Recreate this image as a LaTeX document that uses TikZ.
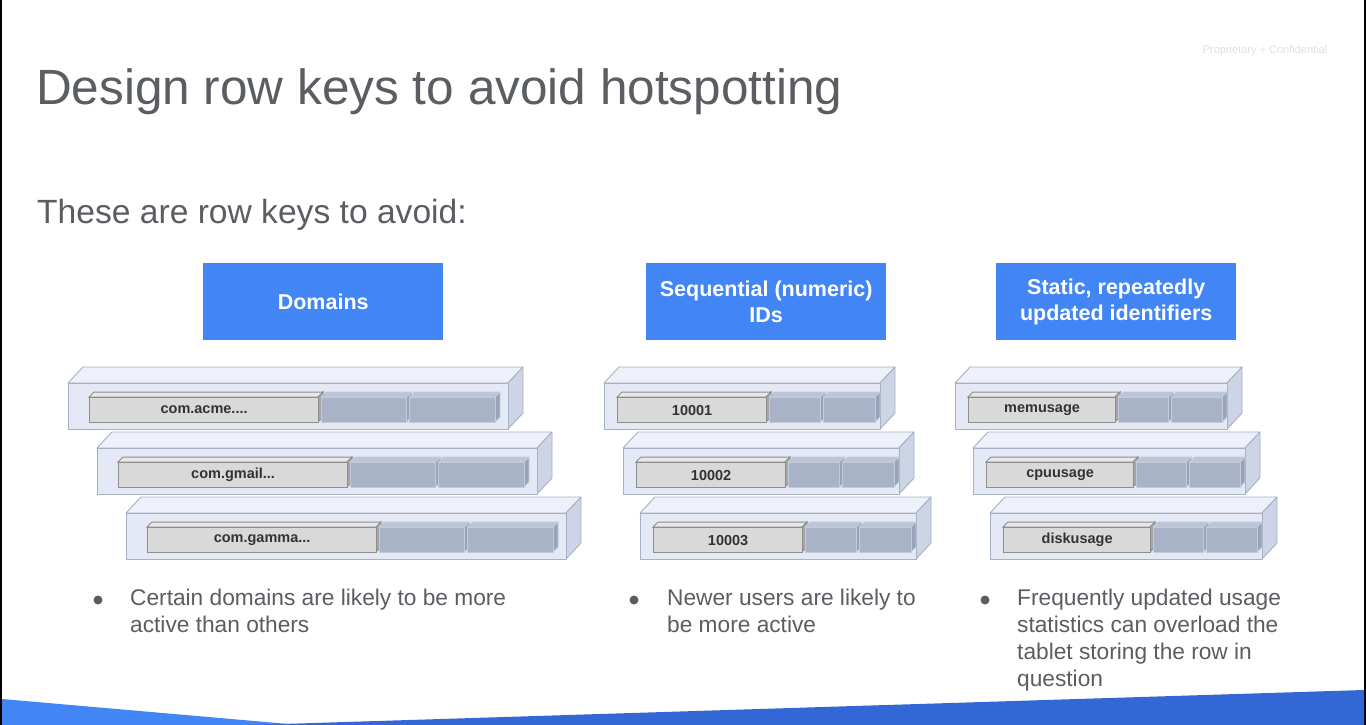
\documentclass[tikz,border=0pt]{standalone}
\usepackage{fontspec}
\setmainfont{Liberation Sans}
\definecolor{txt}{HTML}{5A5D61}
\definecolor{gblue}{HTML}{4285F4}
\definecolor{dblue}{HTML}{3367D6}
\definecolor{slabfront}{HTML}{E4E9F5}
\definecolor{slabtop}{HTML}{EEF1FA}
\definecolor{slabside}{HTML}{CDD4E5}
\definecolor{slabline}{HTML}{A7B0C4}
\definecolor{keyfront}{HTML}{D9D9D9}
\definecolor{keytop}{HTML}{E8E8E8}
\definecolor{keyside}{HTML}{A6A6A6}
\definecolor{keyline}{HTML}{8E8E8E}
\definecolor{cellfront}{HTML}{A9B3C7}
\definecolor{celltop}{HTML}{BCC5D7}
\definecolor{cellside}{HTML}{98A3B9}
\definecolor{cellline}{HTML}{C3CBDB}
\tikzset{
  hdrbox/.style={fill=gblue, draw=none, text=white, align=center, anchor=north west,
    minimum width=240pt, minimum height=77pt, inner sep=0pt,
    font=\fontsize{21.5}{25.5}\selectfont\bfseries},
  keyface/.style={fill=keyfront, draw=keyline, line width=1.2pt, anchor=north west,
    inner sep=0pt, minimum height=25pt, text=black!80,
    font=\fontsize{14.5}{16}\selectfont\bfseries},
  bultext/.style={anchor=north west, align=left, inner sep=0pt, text=txt,
    font=\fontsize{22.7}{27}\selectfont},
  bulldot/.style={fill=txt, draw=none},
  slabedge/.style={draw=slabline, line width=0.9pt, line join=round},
  celledge/.style={draw=cellline, line width=0.9pt, line join=round},
}
% one data cell with its small top and right faces
\newcommand\datacell[3]{% x, y, width
  \fill[celltop, celledge] (#1,#2) -- ({#1+5},{#2-5}) -- ({#1+#3+5},{#2-5}) -- ({#1+#3},#2) -- cycle;
  \fill[cellside, celledge] ({#1+#3},#2) -- ({#1+#3+5},{#2-5}) -- ({#1+#3+5},{#2+20}) -- ({#1+#3},{#2+25}) -- cycle;
  \fill[cellfront, celledge] (#1,#2) rectangle ({#1+#3},{#2+25});
}
% a row slab: name, left, front top, width, key inset, key width, right margin, key text
\newcommand\rowslab[8]{%
  \fill[slabtop, slabedge] (#2,#3) -- ({#2+15},{#3-16}) -- ({#2+#4+15},{#3-16}) -- ({#2+#4},#3) -- cycle;
  \fill[slabside, slabedge] ({#2+#4},#3) -- ({#2+#4+15},{#3-16}) -- ({#2+#4+15},{#3+30}) -- ({#2+#4},{#3+46}) -- cycle;
  \fill[slabfront, slabedge] (#2,#3) rectangle ({#2+#4},{#3+46});
  % key block
  \fill[keytop, draw=keyline, line width=1pt] ({#2+#5},{#3+14}) -- ({#2+#5+5},{#3+9}) -- ({#2+#5+#6+5},{#3+9}) -- ({#2+#5+#6},{#3+14}) -- cycle;
  \fill[keyside, draw=keyline, line width=1pt] ({#2+#5+#6},{#3+14}) -- ({#2+#5+#6+5},{#3+9}) -- ({#2+#5+#6+5},{#3+34}) -- ({#2+#5+#6},{#3+39}) -- cycle;
  \pgfmathsetmacro\cs{#2+#5+#6+3}
  \pgfmathsetmacro\cw{(#2+#4-#7-\cs-3)/2}
  \datacell{\cs}{#3+14}{\cw}
  \datacell{\cs+\cw+3}{#3+14}{\cw}
  \node[keyface, minimum width=#6pt] (#1) at ({#2+#5},{#3+14}) {#8};
}
\begin{document}
\begin{tikzpicture}[x=1pt,y=-1pt]
\useasboundingbox (0,0) rectangle (1366,725);
\fill[white] (0,0) rectangle (1366,725);

% page edges
\fill[black] (0,0) rectangle (2,725);
\fill[black] (1364,0) rectangle (1366,725);

% footer band
\fill[gblue] (2,699) -- (300,725) -- (2,725) -- cycle;
\fill[dblue] (250,725) -- (1364,690) -- (1364,725) -- cycle;

% titles
\node[anchor=base west, inner sep=0pt, text=txt, font=\fontsize{49.5}{55}\selectfont] (title) at (36,104) {Design row keys to avoid hotspotting};
\node[anchor=base west, inner sep=0pt, text=txt, font=\fontsize{33.6}{38}\selectfont] (subtitle) at (37,223) {These are row keys to avoid:};
\node[anchor=base, inner sep=0pt, text=black!12, font=\fontsize{11}{12}\selectfont] (conf) at (1265,54) {Proprietary + Confidential};

% column headers
\node[hdrbox] (hdom) at (203,263) {Domains};
\node[hdrbox] (hseq) at (646,263) {Sequential (numeric)\\IDs};
\node[hdrbox] (hstat) at (996,263) {Static, repeatedly\\updated identifiers};

% domains rows
\rowslab{k1}{68}{383}{440}{21}{229}{13}{com.acme....}
\rowslab{k2}{97}{448}{440}{21}{229}{13}{com.gmail...}
\rowslab{k3}{126}{513}{440}{21}{229}{13}{com.gamma...}

% sequential id rows
\rowslab{n1}{604}{383}{276}{13}{149}{5}{10001}
\rowslab{n2}{623}{448}{276}{13}{149}{5}{10002}
\rowslab{n3}{640}{513}{276}{13}{149}{5}{10003}

% identifier rows
\rowslab{s1}{955}{383}{272}{13}{147}{5}{memusage}
\rowslab{s2}{973}{448}{272}{13}{147}{5}{cpuusage}
\rowslab{s3}{990}{513}{272}{13}{147}{5}{diskusage}

% notes
\fill[bulldot] (98,600) circle (4.5);
\node[bultext] (b1) at (130,589) {Certain domains are likely to be more\\active than others};
\fill[bulldot] (634,600) circle (4.5);
\node[bultext] (b2) at (667,589) {Newer users are likely to\\be more active};
\fill[bulldot] (985,600) circle (4.5);
\node[bultext] (b3) at (1017,589) {Frequently updated usage\\statistics can overload the\\tablet storing the row in\\question};
\end{tikzpicture}
\end{document}
